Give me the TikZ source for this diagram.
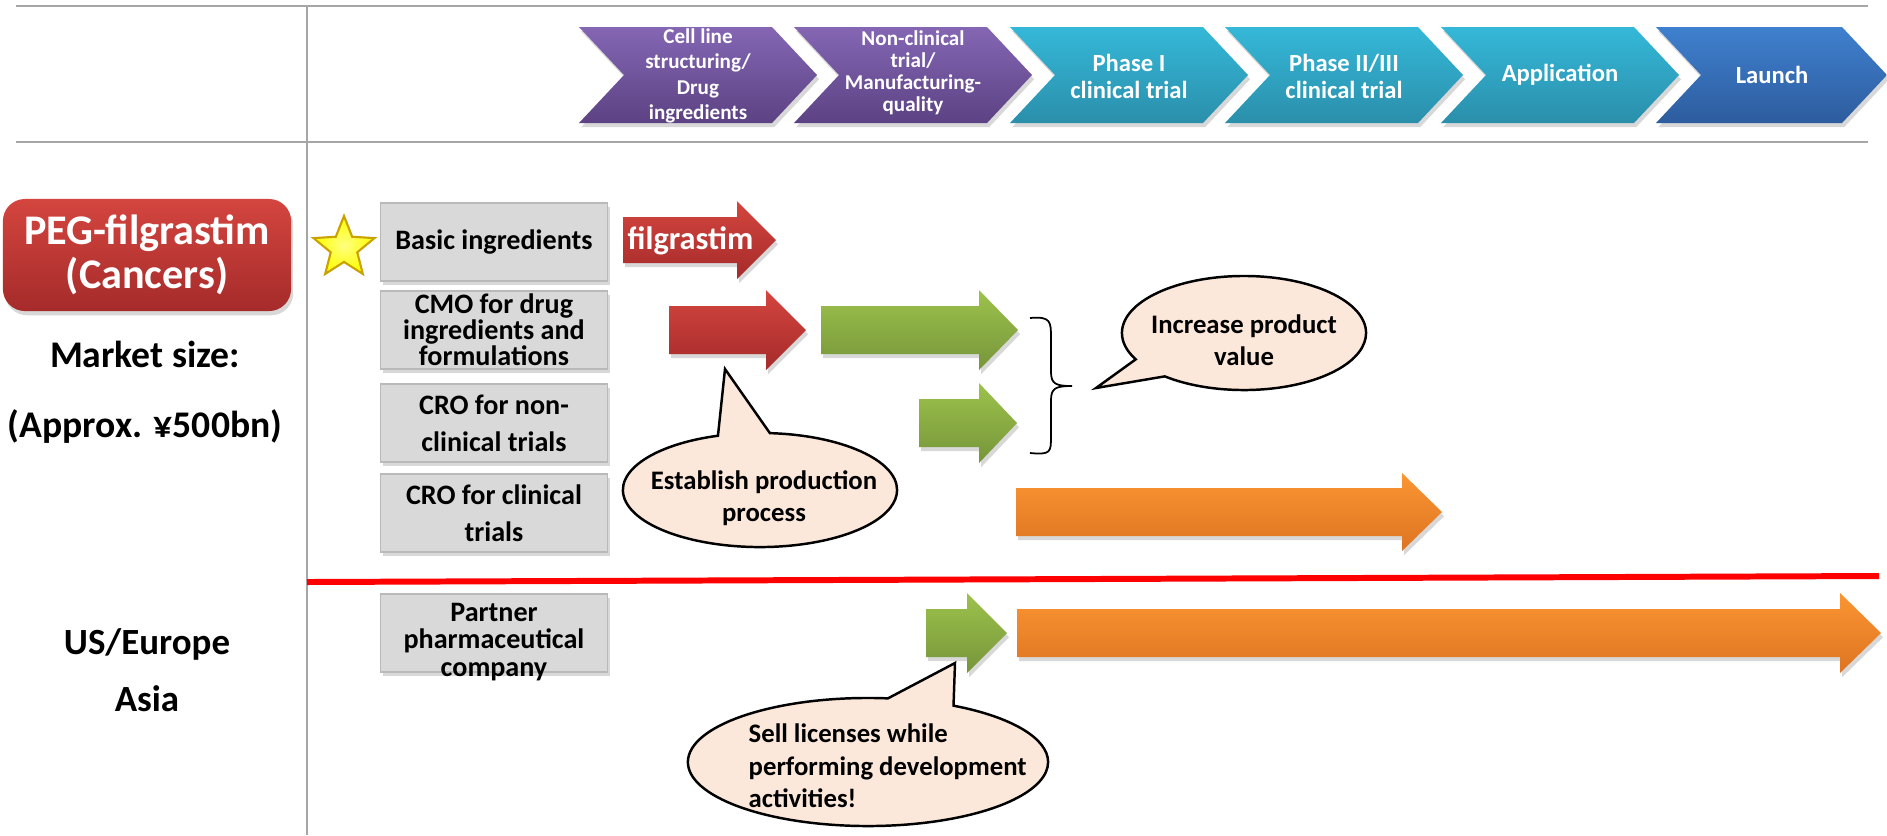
\documentclass[tikz,border=0pt]{standalone}
\usepackage{fontspec}
\setmainfont{Carlito}
\usetikzlibrary{shapes.geometric,shapes.callouts,shadows}
\definecolor{gridgray}{HTML}{A6A6A6}
\definecolor{purptop}{HTML}{8466B4}
\definecolor{purpbot}{HTML}{5C4283}
\definecolor{tealtop}{HTML}{35B8D8}
\definecolor{tealbot}{HTML}{2A8FAB}
\definecolor{bluetop}{HTML}{3F80CE}
\definecolor{bluebot}{HTML}{2D5C9E}
\definecolor{redtop}{HTML}{D4453F}
\definecolor{redbot}{HTML}{A52B2A}
\definecolor{greentop}{HTML}{9DC24C}
\definecolor{greenbot}{HTML}{76953A}
\definecolor{orangetop}{HTML}{FB9532}
\definecolor{orangebot}{HTML}{DE7422}
\definecolor{boxgray}{HTML}{D9D9D9}
\definecolor{peach}{HTML}{FCE8DA}
\definecolor{stargold}{HTML}{C9A200}

% x0, width, top colour, bottom colour
\newcommand{\chevron}[4]{%
  \path[top color=#3, bottom color=#4, softshadow]
    (#1,27) -- (#1+#2-45,27) -- (#1+#2,75) -- (#1+#2-45,123) -- (#1,123) -- (#1+45,75) -- cycle;}
% style, tail x, head x, tip x, mid y, half shaft, half head
\newcommand{\blockarrow}[7]{%
  \path[#1] (#2,#5-#6) -- (#3,#5-#6) -- (#3,#5-#7) -- (#4,#5) -- (#3,#5+#7) -- (#3,#5+#6) -- (#2,#5+#6) -- cycle;}

\begin{document}
\begin{tikzpicture}[x=0.01cm, y=-0.01cm, font=\bfseries,
    softshadow/.style={drop shadow={opacity=0.3, shadow xshift=0.6pt, shadow yshift=-1.2pt}},
    stagetext/.style={text=white, align=center, font=\bfseries\fontsize{7}{7.7}\selectfont},
    rolebox/.style={draw=gray!55, fill=boxgray, minimum width=22.7mm, minimum height=7.8mm, inner sep=0pt,
      align=center, font=\bfseries\fontsize{8}{10.5}\selectfont, softshadow},
    bubble/.style={ellipse callout, draw=black, line width=0.7pt, fill=peach, inner sep=0pt, callout pointer arc=22},
    bubbletext/.style={font=\bfseries\fontsize{7.6}{9.2}\selectfont, align=center},
    bigtext/.style={font=\bfseries\fontsize{10.5}{11.7}\selectfont, align=center},
    redarrow/.style={top color=redtop, bottom color=redbot, softshadow},
    greenarrow/.style={top color=greentop, bottom color=greenbot, softshadow},
    orangearrow/.style={top color=orangetop, bottom color=orangebot, softshadow}]
  \useasboundingbox (0,0) rectangle (1887,835);
  \fill[white] (0,0) rectangle (1887,835);

  % grid
  \draw[gridgray, line width=0.6pt] (16,6) -- (1868,6);
  \draw[gridgray, line width=0.6pt] (16,142) -- (1868,142);
  \draw[gridgray, line width=0.6pt] (307,6) -- (307,835);
  \draw[red, line width=1.7pt] (307,582) -- (1879,576);

  % stages
  \chevron{579}{238}{purptop}{purpbot}
  \chevron{794}{238}{purptop}{purpbot}
  \chevron{1010}{238}{tealtop}{tealbot}
  \chevron{1225}{238}{tealtop}{tealbot}
  \chevron{1441}{238}{tealtop}{tealbot}
  \chevron{1656}{231}{bluetop}{bluebot}
  \node[stagetext, font=\bfseries\fontsize{6}{7.2}\selectfont] (stage1) at (698,76) {Cell line\\structuring/\\Drug\\ingredients};
  \node[stagetext, font=\bfseries\fontsize{6}{6.3}\selectfont] (stage2) at (913,73) {Non-clinical\\trial/\\Manufacturing-\\quality};
  \node[stagetext] (stage3) at (1129,76) {Phase I\\clinical trial};
  \node[stagetext] (stage4) at (1344,76) {Phase II/III\\clinical trial};
  \node[stagetext] (stage5) at (1560,75) {Application};
  \node[stagetext] (stage6) at (1772,75) {Launch};

  % left column
  \node[rounded corners=2.2mm, top color=redtop, bottom color=redbot, text=white, minimum width=28.8mm,
    minimum height=11.2mm, font=\bfseries\fontsize{12}{12.4}\selectfont, align=center, softshadow]
    (peg) at (147,255) {PEG-filgrastim\\(Cancers)};
  \node[bigtext, font=\bfseries\fontsize{10.7}{20}\selectfont] (market) at (145,392) {Market size:\\(Approx. ¥500bn)};
  \node[bigtext, font=\bfseries\fontsize{10.5}{16.2}\selectfont] (region) at (147,670) {US/Europe\\Asia};
  \node[star, star points=5, star point ratio=2.3, minimum size=6.4mm, inner sep=0pt,
    inner color=yellow!50!white, outer color=yellow, draw=stargold, line width=0.6pt] (star) at (344,248) {};

  % roles
  \node[rolebox] (basic) at (494,242) {Basic ingredients};
  \node[rolebox, font=\bfseries\fontsize{8}{7.4}\selectfont] (cmo) at (494,330) {CMO for drug\\ingredients and\\formulations};
  \node[rolebox] (crononc) at (494,423) {CRO for non-\\clinical trials};
  \node[rolebox] (croclin) at (494,513) {CRO for clinical\\trials};
  \node[rolebox] (partner) at (494,633) {};
  \node[align=center, font=\bfseries\fontsize{8}{7.7}\selectfont] (partnertext) at (494,642) {Partner\\pharmaceutical\\company};

  % activities
  \blockarrow{redarrow}{623}{737}{776}{240}{23}{39}
  \node[anchor=west, text=white, font=\bfseries\fontsize{9.2}{10}\selectfont, inner sep=0pt] (filgr) at (627,241) {filgrastim};
  \blockarrow{redarrow}{669}{766}{806}{330}{24}{40}
  \blockarrow{greenarrow}{821}{979}{1018}{330}{24}{40}
  \blockarrow{greenarrow}{919}{979}{1017}{423}{24}{40}
  \blockarrow{orangearrow}{1016}{1402}{1442}{512}{24}{39}
  \blockarrow{greenarrow}{926}{967}{1007}{633}{24}{40}
  \blockarrow{orangearrow}{1017}{1840}{1881}{633}{24}{40}

  % brace
  \draw[line width=0.5pt] (1030,318) .. controls (1051,316) and (1051,322) .. (1051,338) -- (1051,372)
    .. controls (1051,384) and (1056,386) .. (1072,386) .. controls (1056,386) and (1051,388) .. (1051,400)
    -- (1051,436) .. controls (1051,452) and (1051,455) .. (1030,453);

  % callouts
  \node[bubble, minimum width=24.4mm, minimum height=11.4mm, callout absolute pointer={(1096,388)}] (valuecall) at (1244,333) {};
  \node[bubbletext] (valuetext) at (1244,340) {Increase product\\value};
  \node[bubble, minimum width=27.4mm, minimum height=11.4mm, callout absolute pointer={(725,369)}] (prodcall) at (760,490) {};
  \node[bubbletext] (prodtext) at (764,498) {Establish production\\process};
  \node[bubble, minimum width=36mm, minimum height=12.8mm, callout absolute pointer={(955,663)}] (sellcall) at (868,762) {};
  \node[bubbletext, align=left, anchor=west, inner sep=0pt] (selltext) at (748,766) {Sell licenses while\\performing development\\activities!};
\end{tikzpicture}
\end{document}
